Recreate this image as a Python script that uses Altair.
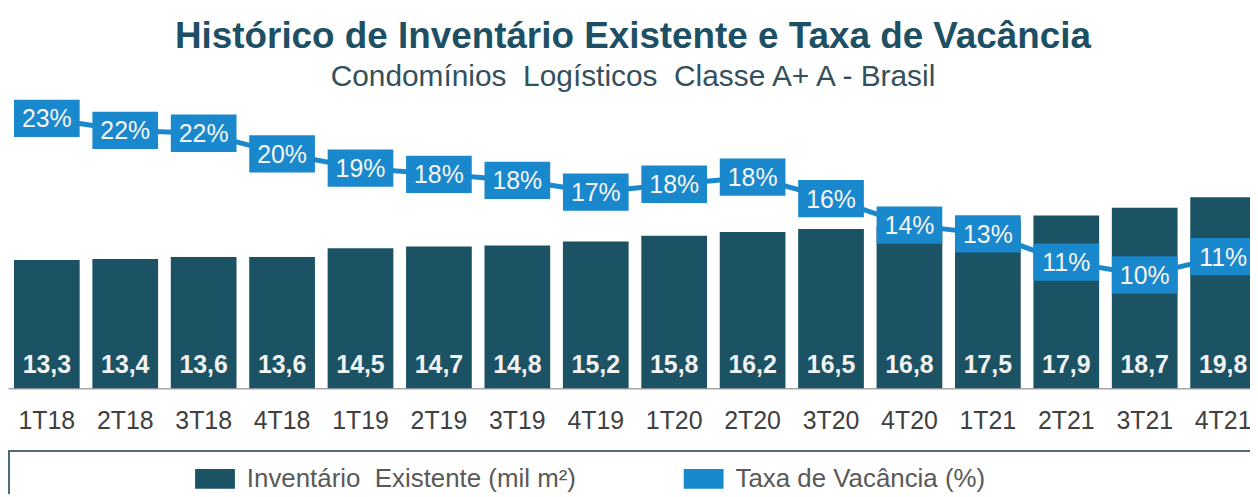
import altair as alt
import pandas as pd

quarters = ["1T18", "2T18", "3T18", "4T18", "1T19", "2T19", "3T19", "4T19",
            "1T20", "2T20", "3T20", "4T20", "1T21", "2T21", "3T21", "4T21"]
inventario = [13.3, 13.4, 13.6, 13.6, 14.5, 14.7, 14.8, 15.2,
              15.8, 16.2, 16.5, 16.8, 17.5, 17.9, 18.7, 19.8]
vacancia = [0.2304, 0.2204, 0.2180, 0.2008, 0.1888, 0.1836, 0.1786, 0.1688,
            0.1753, 0.1813, 0.1632, 0.1411, 0.1338, 0.1101, 0.0993, 0.1147]
series_names = ["Inventário\u00a0 Existente (mil m²)", "Taxa de Vacância (%)"]
series_colors = ["#1b5264", "#1a88cc"]

df = pd.DataFrame({"q": quarters, "inv": inventario, "vac": vacancia,
                   "serie": [series_names[0]] * len(quarters)})

FONT = "Liberation Sans, Arial, sans-serif"
BLUE = series_colors[1]
W, H = 1248, 288

x = alt.X("q:N", sort=quarters, title=None,
          scale=alt.Scale(range=[0, 1260], paddingInner=0.162, paddingOuter=0.076),
          axis=alt.Axis(labelAngle=0, labelFontSize=25, labelColor="#404040", labelFont=FONT,
                        ticks=False, labelPadding=20, domainColor="#a6a6a6", domainWidth=1.5,
                        grid=False))

ybar = alt.Y("inv:Q", scale=alt.Scale(domain=[0, 29.69], nice=False, zero=True), axis=None)
yline = alt.Y("vac:Q", scale=alt.Scale(domain=[0.00442, 0.24442], nice=False, zero=False), axis=None)

bars = alt.Chart(df).mark_bar().encode(
    x=x, y=ybar,
    color=alt.Color("serie:N", scale=alt.Scale(domain=series_names, range=series_colors),
                    legend=alt.Legend(title=None, orient="none", legendX=188, legendY=359,
                                      direction="horizontal",
                                      symbolType="M-1,-0.5L1,-0.5L1,0.5L-1,0.5Z",
                                      symbolSize=1600, symbolStrokeWidth=0, symbolOpacity=1,
                                      labelFontSize=26, labelFont=FONT, labelColor="#595959",
                                      labelOffset=12, columnPadding=108, padding=0,
                                      labelLimit=600)),
)
bar_text = alt.Chart(df).transform_calculate(
    lbl="replace(format(datum.inv, '.1f'), '.', ',')"
).mark_text(font=FONT, fontSize=25, fontWeight="bold", color="#f2f2f2",
            baseline="middle", dy=-23).encode(x=x, y=alt.datum(0), text="lbl:N")

bar_layer = alt.layer(bars, bar_text)

line = alt.Chart(df).mark_line(color=BLUE, strokeWidth=5).encode(x=x, y=yline)
boxes = alt.Chart(df).mark_point(shape="M-1,-0.568L1,-0.568L1,0.568L-1,0.568Z", size=4356,
                                 filled=True, opacity=1, color=BLUE, strokeWidth=0).encode(x=x, y=yline)
labels = alt.Chart(df).mark_text(font=FONT, fontSize=25, color="#f5f5f5", baseline="middle",
                                 dy=1).encode(x=x, y=yline, text=alt.Text("vac:Q", format=".0%"))
line_layer = alt.layer(line, boxes, labels)

frame = alt.Chart(pd.DataFrame({"k": [0]})).mark_rect(
    fillOpacity=0, stroke="#4d6b78", strokeWidth=2
).encode(x=alt.value(1), x2=alt.value(1400), y=alt.value(351), y2=alt.value(600))

chart = alt.layer(bar_layer, line_layer, frame).resolve_scale(y="independent").properties(
    width=W, height=H,
    padding={"left": 0, "top": 93, "right": 0, "bottom": 105},
    autosize=alt.AutoSizeParams(type="none"),
    title=alt.TitleParams(
        "Histórico de Inventário Existente e Taxa de Vacância",
        subtitle="Condomínios\u00a0 Logísticos\u00a0 Classe A+ A - Brasil",
        font=FONT, fontSize=37, fontWeight="bold", color="#1d5064",
        subtitleFont=FONT, subtitleFontSize=30, subtitleColor="#34505c",
        subtitlePadding=6, offset=7, anchor="middle", dx=4),
).configure_view(strokeWidth=0)

chart.save("out.html", embed_options={"renderer": "svg", "actions": False})
